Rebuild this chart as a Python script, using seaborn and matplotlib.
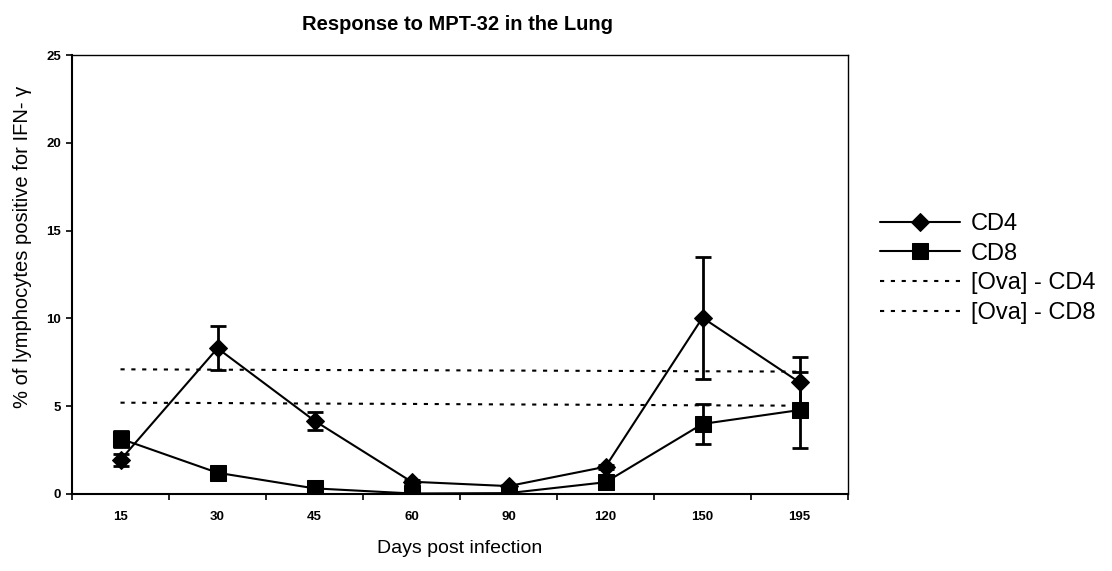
import numpy as np
import pandas as pd
import matplotlib
matplotlib.use("Agg")
import matplotlib.pyplot as plt
import seaborn as sns

# ---- data ----
days = ["15", "30", "45", "60", "90", "120", "150", "195"]
cd4 = [1.94, 8.30, 4.17, 0.70, 0.45, 1.55, 10.04, 6.36]
cd4_err = [0.35, 1.24, 0.50, 0.10, 0.05, 0.10, 3.47, 1.44]
cd8 = [3.15, 1.21, 0.32, 0.03, 0.05, 0.67, 3.99, 4.78]
cd8_err = [0.45, 0.30, 0.10, 0.05, 0.05, 0.10, 1.13, 2.15]
ova_cd4 = [7.10, 7.08, 7.06, 7.05, 7.03, 7.01, 6.99, 6.97]
ova_cd8 = [5.20, 5.18, 5.15, 5.13, 5.10, 5.08, 5.05, 5.03]
y_ticks = [0, 5, 10, 15, 20, 25]

title = "Response to MPT-32 in the Lung"
xlabel = "Days post infection"
ylabel = "% of lymphocytes positive for IFN- \u03b3"

sns.set_style("white")
plt.rcParams["font.family"] = ["Liberation Sans", "DejaVu Sans"]
for k in ["text.color", "axes.labelcolor", "xtick.color", "ytick.color"]:
    plt.rcParams[k] = "black"

df = pd.DataFrame({"day": days, "cd4": cd4, "cd8": cd8,
                   "ova_cd4": ova_cd4, "ova_cd8": ova_cd8})

fig = plt.figure(figsize=(11.12, 5.71), dpi=100)
ax = fig.add_axes([72 / 1112, 1 - 494 / 571, 776 / 1112, 439 / 571])

# dashed reference lines
sns.lineplot(data=df, x="day", y="ova_cd4", ax=ax, sort=False, color="black",
             lw=1.5, label="[Ova] - CD4", zorder=2)
sns.lineplot(data=df, x="day", y="ova_cd8", ax=ax, sort=False, color="black",
             lw=1.5, label="[Ova] - CD8", zorder=2)
for ln in ax.lines[-2:]:
    ln.set_dashes((2.0, 3.2))

# error bars
ax.errorbar(days, cd4, yerr=cd4_err, fmt="none", ecolor="black", elinewidth=2.0,
            capsize=6, capthick=2.0, zorder=3)
ax.errorbar(days, cd8, yerr=cd8_err, fmt="none", ecolor="black", elinewidth=2.0,
            capsize=6, capthick=2.0, zorder=3)

# data series
sns.lineplot(data=df, x="day", y="cd4", ax=ax, sort=False, color="black", lw=1.5,
             marker="D", markersize=9, markeredgecolor="black", label="CD4", zorder=4)
sns.lineplot(data=df, x="day", y="cd8", ax=ax, sort=False, color="black", lw=1.5,
             marker="s", markersize=12, markeredgecolor="black", label="CD8", zorder=5)

ax.set_xlim(-0.5, len(days) - 0.5)
ax.set_ylim(0, 25)
ax.set_yticks(y_ticks)
ax.set_yticklabels([str(v) for v in y_ticks], fontsize=9.5, fontweight="bold")
ax.set_xticks(range(len(days)))
ax.set_xticklabels(days, fontsize=9.5, fontweight="bold")
ax.set_xticks(np.arange(-0.5, len(days), 1.0), minor=True)
ax.tick_params(axis="x", which="major", length=0, pad=12)
ax.tick_params(axis="x", which="minor", length=4, width=1.2, direction="out", bottom=True)
ax.tick_params(axis="y", which="major", length=4, width=1.2, direction="out", left=True, pad=4)

for s in ax.spines.values():
    s.set_color("black")
    s.set_linewidth(1.0)
ax.spines["left"].set_linewidth(1.5)
ax.spines["bottom"].set_linewidth(1.5)

ax.set_xlabel(xlabel, fontsize=14)
ax.set_ylabel(ylabel, fontsize=14.5)
ax.xaxis.set_label_coords(0.5, -0.105)
ax.yaxis.set_label_coords(-0.052, 0.5626)

fig.text(457 / 1112, 1 - 25 / 571, title, ha="center", va="center",
         fontsize=14.5, fontweight="bold")

# legend
handles, labels = ax.get_legend_handles_labels()
order = ["CD4", "CD8", "[Ova] - CD4", "[Ova] - CD8"]
hmap = dict(zip(labels, handles))
ax.legend().remove()
fig.legend([hmap[k] for k in order], order, loc="center left",
           bbox_to_anchor=(880 / 1112, 1 - 268.5 / 571), frameon=False,
           fontsize=17, handlelength=3.4, handletextpad=0.45, labelspacing=0.33,
           borderpad=0, borderaxespad=0)

fig.savefig("out.png", dpi=100, facecolor="white")
